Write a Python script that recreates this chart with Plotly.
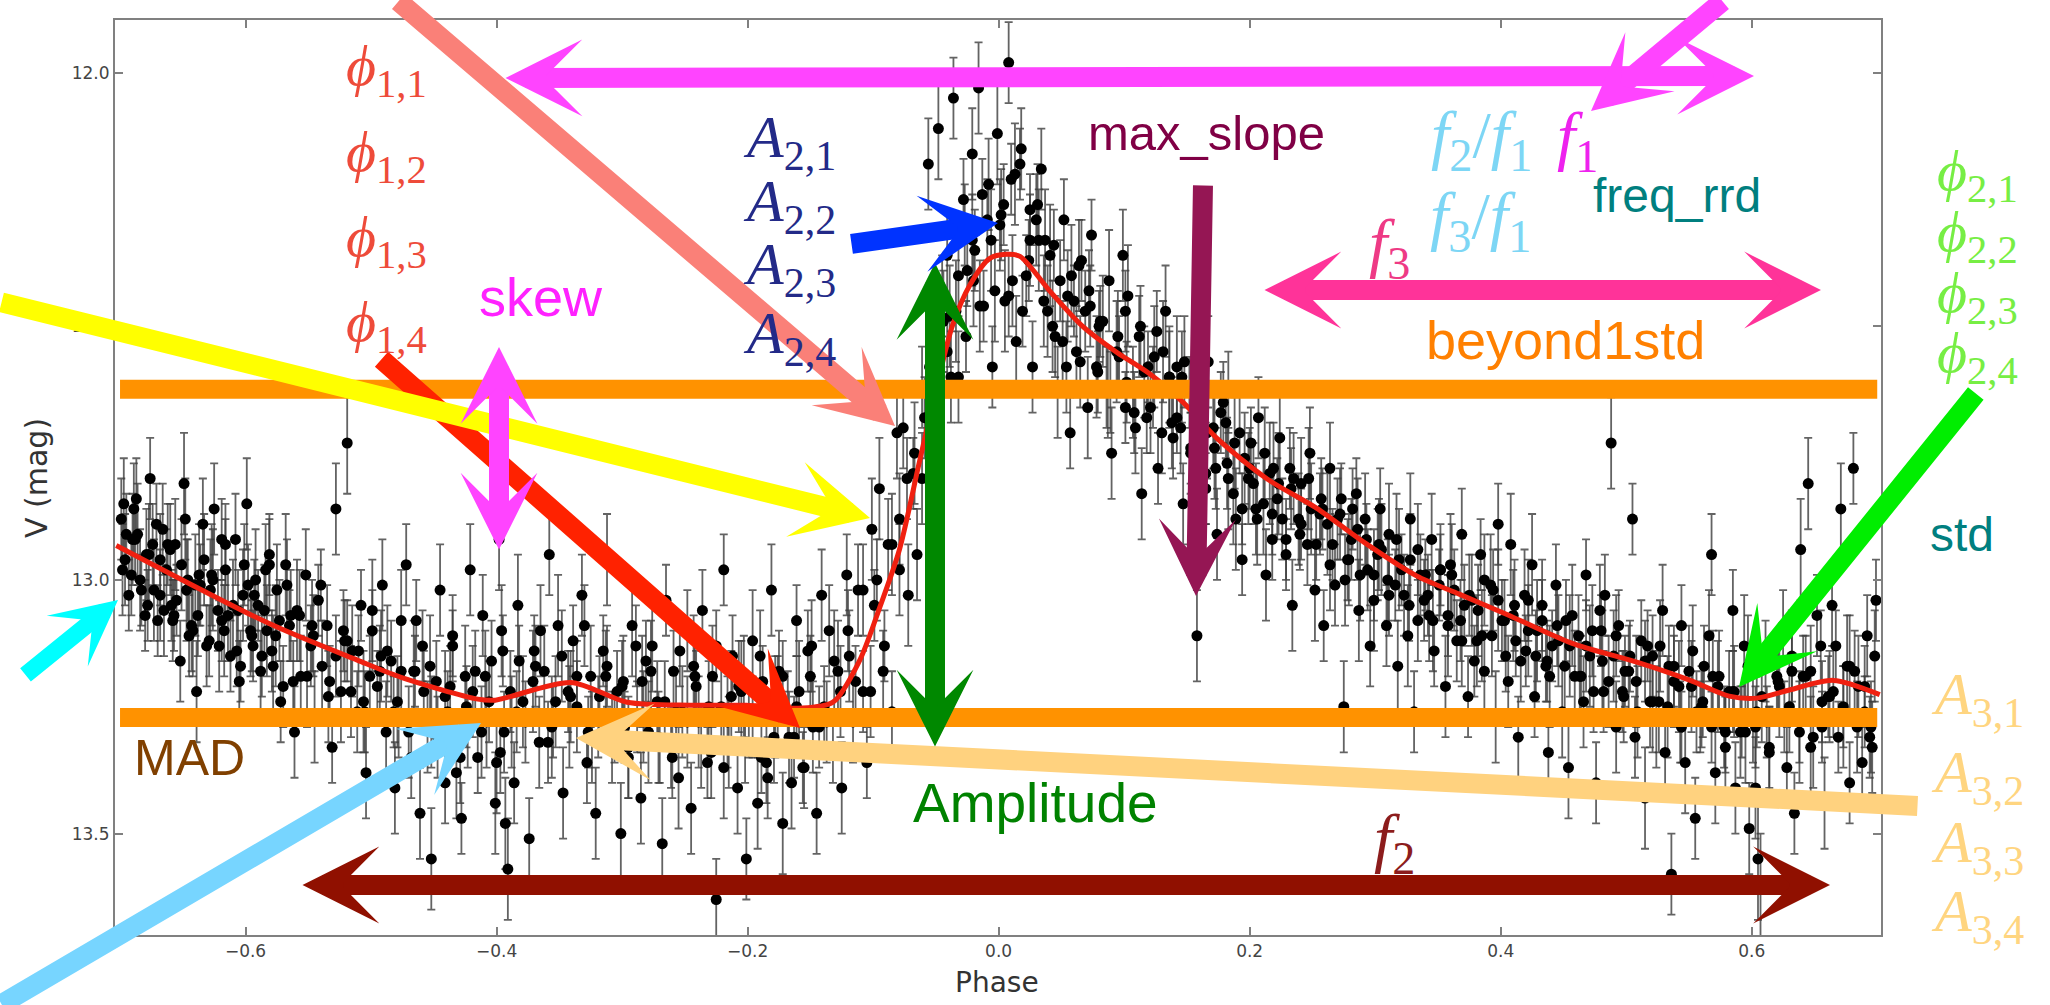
import plotly.graph_objects as go

# ---------------- data ----------------
phase = [
 -0.699,-0.696,-0.693,-0.690,-0.687,-0.684,
 -0.679,-0.676,-0.673,-0.670,-0.666,-0.663,
 -0.659,-0.656,-0.652,-0.649,-0.646,-0.642,
 -0.639,-0.636,-0.633,-0.629,-0.625,-0.622,
 -0.619,-0.616,-0.612,-0.608,-0.605,-0.602,
 -0.599,-0.595,-0.592,-0.588,-0.585,-0.581,
 -0.579,-0.575,-0.572,-0.568,-0.565,-0.561,
 -0.559,-0.556,-0.552,-0.548,-0.545,-0.542,
 -0.539,-0.535,-0.531,-0.528,-0.524,-0.521,
 -0.519,-0.515,-0.511,-0.508,-0.504,-0.501,
 -0.499,-0.495,-0.491,-0.488,-0.484,-0.481,
 -0.479,-0.476,-0.472,-0.468,-0.465,-0.461,
 -0.459,-0.455,-0.452,-0.448,-0.445,-0.441,
 -0.439,-0.435,-0.432,-0.428,-0.425,-0.421,
 -0.419,-0.415,-0.411,-0.408,-0.404,-0.401,
 -0.398,-0.396,-0.394,-0.393,-0.391,-0.389,
 -0.386,-0.383,-0.379,-0.374,-0.370,-0.366,
 -0.362,-0.358,-0.355,-0.351,-0.347,-0.343,
 -0.339,-0.336,-0.332,-0.328,-0.325,-0.321,
 -0.319,-0.315,-0.312,-0.308,-0.304,-0.301,
 -0.299,-0.295,-0.292,-0.288,-0.285,-0.281,
 -0.279,-0.276,-0.272,-0.268,-0.265,-0.261,
 -0.259,-0.255,-0.252,-0.248,-0.245,-0.241,
 -0.239,-0.236,-0.232,-0.228,-0.225,-0.221,
 -0.219,-0.215,-0.212,-0.208,-0.205,-0.201,
 -0.199,-0.196,-0.192,-0.188,-0.185,-0.181,
 -0.179,-0.175,-0.172,-0.168,-0.165,-0.161,
 -0.159,-0.156,-0.152,-0.148,-0.145,-0.141,
 -0.139,-0.135,-0.132,-0.128,-0.125,-0.121,
 -0.119,-0.116,-0.112,-0.108,-0.105,-0.101,
 -0.099,-0.095,-0.092,-0.088,-0.085,-0.081,
 -0.079,-0.076,-0.072,-0.068,-0.065,-0.061,
 -0.059,-0.056,-0.052,-0.048,-0.045,-0.041,
 -0.039,-0.036,-0.032,-0.028,-0.025,-0.021,
 -0.019,-0.016,-0.012,-0.008,-0.005,-0.001,
 0.001,0.005,0.008,0.010,0.014,0.018,
 0.022,0.025,0.027,0.032,0.034,0.039,
 0.041,0.045,0.047,0.052,0.055,0.057,
 0.062,0.064,0.069,0.071,0.074,0.079,
 0.081,0.086,0.088,0.090,0.096,0.099,
 0.102,0.103,0.109,0.112,0.114,0.119,
 0.121,0.126,0.127,0.133,0.136,0.139,
 0.142,0.145,0.147,0.152,0.156,0.158,
 0.161,0.165,0.167,0.172,0.174,0.179,
 0.182,0.183,0.189,0.192,0.194,0.199,
 0.201,0.205,0.207,0.213,0.216,0.218,
 0.222,0.224,0.229,0.232,0.234,0.239,
 0.241,0.246,0.248,0.252,0.256,0.259,
 0.262,0.264,0.268,0.273,0.275,0.278,
 0.281,0.285,0.287,0.292,0.296,0.299,
 0.302,0.304,0.309,0.311,0.316,0.318,
 0.321,0.326,0.328,0.331,0.334,0.339,
 0.342,0.345,0.347,0.352,0.356,0.358,
 0.361,0.365,0.369,0.371,0.374,0.379,
 0.382,0.384,0.387,0.392,0.396,0.398,
 0.401,0.406,0.408,0.412,0.414,0.419,
 0.422,0.425,0.427,0.433,0.436,0.438,
 0.441,0.444,0.449,0.452,0.454,0.459,
 0.462,0.466,0.468,0.471,0.476,0.479,
 0.481,0.483,0.488,0.492,0.494,0.497,
 0.502,0.505,0.507,0.512,0.515,0.519,
 0.521,0.524,0.529,0.531,0.536,0.538,
 0.542,0.544,0.547,0.553,0.555,0.559,
 0.561,0.566,0.568,0.571,0.574,0.579,
 0.582,0.585,0.587,0.592,0.594,0.598,
 0.601,0.603,0.605,0.607,0.611,0.614,
 0.622,0.625,0.628,0.632,0.634,0.639,
 0.641,0.645,0.647,0.652,0.656,0.658,
 0.662,0.664,0.669,0.671,0.676,0.678,
 0.681,0.685,0.688,0.692,0.695,0.699,
 # dense core near the light-curve
 -0.697,-0.691,-0.686,-0.680,-0.674,-0.668,
 -0.662,-0.657,-0.651,-0.645,-0.640,-0.634,
 -0.627,-0.621,-0.616,-0.610,-0.604,-0.598,
 -0.593,-0.587,-0.581,-0.576,-0.570,-0.564,
 -0.557,-0.551,-0.546,-0.540,-0.534,-0.528,
 -0.522,-0.516,-0.510,-0.505,-0.499,-0.493,
 -0.487,-0.482,-0.476,-0.470,-0.464,-0.458,
 -0.453,-0.447,-0.441,-0.435,-0.429,-0.424,
 -0.417,-0.412,-0.406,-0.400,-0.395,-0.388,
 -0.382,-0.377,-0.371,-0.365,-0.359,-0.353,
 -0.348,-0.342,-0.336,-0.330,-0.324,-0.318,
 -0.312,-0.306,-0.300,-0.295,-0.289,-0.283,
 -0.277,-0.271,-0.266,-0.260,-0.254,-0.248,
 -0.242,-0.237,-0.231,-0.225,-0.219,-0.213,
 -0.207,-0.202,-0.196,-0.190,-0.184,-0.178,
 -0.172,-0.167,-0.161,-0.155,-0.149,-0.143,
 -0.137,-0.131,-0.126,-0.120,-0.114,-0.108,
 -0.102,-0.097,-0.091,-0.085,-0.079,-0.073,
 -0.067,-0.061,-0.055,-0.049,-0.044,-0.038,
 -0.032,-0.026,-0.021,-0.015,-0.009,-0.003,
 0.002,0.008,0.013,0.019,0.025,0.031,
 0.037,0.043,0.049,0.054,0.060,0.066,
 0.072,0.078,0.083,0.089,0.095,0.101,
 0.107,0.113,0.118,0.124,0.130,0.136,
 0.142,0.148,0.153,0.159,0.165,0.171,
 0.177,0.183,0.188,0.194,0.200,0.206,
 0.212,0.218,0.223,0.229,0.235,0.241,
 0.247,0.253,0.258,0.264,0.270,0.276,
 0.282,0.288,0.293,0.299,0.305,0.311,
 0.317,0.323,0.328,0.334,0.340,0.346,
 0.352,0.358,0.363,0.369,0.375,0.381,
 0.387,0.393,0.398,0.404,0.410,0.416,
 0.422,0.428,0.433,0.439,0.445,0.451,
 0.457,0.463,0.468,0.474,0.480,0.486,
 0.492,0.498,0.503,0.509,0.515,0.521,
 0.527,0.533,0.538,0.544,0.550,0.556,
 0.562,0.568,0.573,0.579,0.585,0.591,
 0.597,0.603,0.608,0.614,0.620,0.626,
 0.632,0.638,0.643,0.649,0.655,0.661,
 0.667,0.673,0.678,0.684,0.690,0.696,
 # densest clumps
 -0.695,-0.689,-0.683,-0.677,-0.671,-0.665,
 -0.660,-0.655,-0.648,-0.643,-0.637,-0.631,
 -0.626,-0.619,-0.614,-0.607,-0.601,-0.596,
 -0.590,-0.584,-0.578,-0.573,-0.567,-0.562,
 -0.698,-0.688,-0.678,-0.668,-0.658,-0.647,
 -0.638,-0.628,-0.617,-0.606,-0.594,-0.583,
 -0.547,-0.533,-0.519,-0.506,-0.492,-0.478,
 -0.466,-0.452,-0.437,-0.423,-0.409,-0.397,
 -0.384,-0.369,-0.356,-0.341,-0.327,-0.313,
 -0.298,-0.284,-0.270,-0.257,-0.243,-0.229,
 -0.216,-0.203,-0.189,-0.176,-0.163,-0.150,
 -0.047,-0.041,-0.034,-0.027,-0.020,-0.013,
 -0.006,0.004,0.011,0.017,0.024,0.030,
 0.036,0.044,0.051,0.058,0.065,0.073,
 0.080,0.087,0.094,0.101,0.108,0.116,
 0.123,0.131,0.138,0.146,0.153,0.160,
 0.166,0.173,0.181,0.187,0.196,0.203,
 0.211,0.219,0.226,0.233,0.240,0.249,
 0.257,0.266,0.272,0.279,0.286,0.294,
 0.303,0.310,0.319,0.327,0.336,0.343,
 0.351,0.360,0.368,0.377,0.385,0.394,
 0.403,0.411,0.420,0.429,0.437,0.446,
 0.455,0.464,0.473,0.482,0.490,0.499,
 0.508,0.517,0.526,0.534,0.543,0.552,
 0.560,0.569,0.578,0.586,0.595,0.604,
 0.612,0.621,0.630,0.638,0.647,0.656,
 0.665,0.673,0.682,0.690,0.698,0.694,
]
mag = [
 12.88,12.96,13.03,12.92,12.84,13.00,
 12.95,12.80,13.02,13.08,12.90,12.98,
 13.05,12.93,13.16,12.81,13.00,13.10,
 13.22,13.01,12.96,13.12,12.86,13.06,
 13.08,12.98,13.15,12.92,13.20,13.03,
 12.85,13.11,13.00,13.18,13.06,12.95,
 13.14,13.02,13.24,12.97,13.09,13.30,
 13.06,13.19,12.99,13.13,13.27,13.04,
 13.17,13.09,13.33,12.86,13.22,13.12,
 12.73,13.14,13.26,13.05,13.38,13.19,
 13.10,13.21,13.01,13.30,13.16,13.41,
 13.24,13.08,12.97,13.35,13.18,13.46,
 13.13,13.29,13.55,13.20,13.02,13.40,
 13.26,13.11,13.38,13.47,13.19,12.98,
 13.22,13.35,13.07,13.28,13.16,13.44,
 12.92,13.10,13.30,13.48,13.57,13.22,
 13.40,13.05,13.24,13.51,13.14,13.32,
 13.18,12.95,13.28,13.09,13.42,13.22,
 13.12,13.25,13.03,13.36,13.19,13.46,
 13.27,13.14,12.96,13.31,13.22,13.50,
 13.20,13.35,13.09,13.27,13.43,13.16,
 13.30,13.13,13.24,13.52,13.04,13.33,
 13.18,13.39,13.26,13.10,13.45,13.21,
 13.28,13.06,13.36,13.19,13.63,13.25,
 12.98,13.32,13.15,13.41,13.22,13.55,
 13.27,13.12,13.44,13.20,13.36,13.02,
 13.31,13.18,13.48,13.26,13.40,13.08,
 13.22,13.37,13.14,13.29,13.46,13.03,
 13.25,13.10,13.33,13.18,13.41,12.99,
 13.15,13.28,13.02,13.22,13.36,12.90,
 13.05,12.82,13.18,12.93,13.26,12.71,
 12.88,12.70,13.03,12.79,12.95,12.62,
 12.68,12.18,12.81,12.11,12.44,12.55,
 12.48,12.05,12.60,12.25,12.39,12.16,
 12.35,12.03,12.46,12.22,12.58,12.12,
 12.30,12.45,11.98,12.21,12.53,12.15,
 12.40,12.27,12.58,12.33,12.19,12.47,
 12.36,12.52,12.63,12.29,12.44,12.71,
 12.55,12.38,12.47,12.66,12.32,12.59,
 12.49,12.62,12.41,12.75,12.56,12.36,
 12.61,12.44,12.70,12.52,12.83,12.58,
 12.66,12.51,12.78,12.47,12.60,12.72,
 12.58,12.70,12.85,12.63,12.76,13.11,
 12.68,12.82,12.57,12.74,12.91,12.65,
 12.77,12.63,12.88,12.71,12.96,12.80,
 12.73,12.86,12.68,12.99,12.79,12.92,
 12.84,12.72,12.95,12.78,13.05,12.88,
 12.81,12.93,12.75,13.02,12.87,13.09,
 12.89,12.78,13.01,12.84,13.25,12.96,
 12.92,12.83,13.06,12.88,13.13,12.99,
 12.95,12.86,13.09,12.91,13.01,13.17,
 12.98,13.11,12.88,13.26,12.94,13.04,
 13.03,12.92,13.14,12.98,13.21,13.07,
 12.99,13.12,12.91,13.05,13.23,13.16,
 13.06,12.95,13.18,13.01,13.27,12.89,
 13.08,13.20,12.93,13.12,13.31,13.03,
 13.10,12.97,13.23,13.05,13.17,13.34,
 13.13,13.01,13.26,13.08,13.37,13.19,
 13.11,13.24,12.99,13.15,13.40,13.06,
 13.16,13.03,12.73,13.29,13.09,13.22,
 13.18,12.88,13.31,13.12,13.43,13.24,
 13.15,13.27,13.06,13.34,13.58,13.20,
 13.21,13.09,13.36,13.14,13.47,13.27,
 13.24,13.11,12.95,13.38,13.19,13.30,
 13.22,13.06,13.41,13.28,13.13,13.49,
 13.27,13.41,13.55,13.61,13.16,13.34,
 13.21,13.09,13.37,13.18,13.46,12.94,
 13.19,12.81,13.33,13.07,13.29,13.44,
 13.23,13.05,13.31,12.86,13.17,13.40,
 12.78,13.21,13.36,13.11,13.29,13.04,
 # dense core near the light-curve
 12.85,12.99,12.91,13.07,12.93,13.03,
 12.93,13.07,12.97,13.11,13.01,12.89,
 12.99,13.13,12.93,13.05,13.17,13.01,
 13.03,13.15,12.97,13.11,13.21,13.07,
 13.07,13.19,13.11,13.01,13.23,13.15,
 13.10,13.22,13.14,13.26,13.06,13.18,
 13.14,13.26,13.18,13.30,13.08,13.22,
 13.17,13.31,13.23,13.13,13.35,13.25,
 13.18,13.30,13.24,13.36,13.14,13.28,
 13.16,13.28,13.20,13.10,13.32,13.24,
 13.15,13.27,13.19,13.09,13.31,13.23,
 13.17,13.29,13.21,13.33,13.13,13.27,
 13.18,13.31,13.24,13.35,13.14,13.28,
 13.19,13.33,13.25,13.13,13.37,13.23,
 13.21,13.33,13.27,13.15,13.39,13.25,
 13.19,13.31,13.25,13.37,13.13,13.29,
 13.28,13.16,13.22,13.10,13.20,13.02,
 13.22,13.00,13.13,12.93,12.98,12.80,
 12.75,12.80,12.58,12.70,12.49,12.60,
 12.40,12.52,12.33,12.46,12.29,12.43,
 12.28,12.44,12.20,12.47,12.33,12.26,
 12.33,12.50,12.41,12.58,12.45,12.37,
 12.43,12.58,12.49,12.63,12.52,12.66,
 12.63,12.50,12.68,12.56,12.71,12.60,
 12.68,12.57,12.75,12.66,12.79,12.70,
 12.67,12.80,12.73,12.86,12.78,12.88,
 12.75,12.87,12.81,12.92,12.80,12.89,
 12.80,12.93,12.86,12.97,12.88,13.00,
 12.86,12.99,12.92,13.04,12.94,13.03,
 12.92,13.03,12.96,13.08,12.99,13.08,
 12.98,13.09,13.02,13.12,13.03,13.12,
 13.00,13.11,13.04,13.15,13.07,13.16,
 13.04,13.15,13.08,13.19,13.09,13.17,
 13.07,13.19,13.13,13.22,13.10,13.20,
 13.11,13.23,13.15,13.26,13.16,13.24,
 13.13,13.25,13.17,13.29,13.18,13.26,
 13.17,13.29,13.21,13.33,13.22,13.30,
 13.17,13.29,13.23,13.33,13.19,13.27,
 13.15,13.27,13.19,13.31,13.13,13.23,
 13.13,13.25,13.17,13.29,13.21,13.33,
 # densest clumps
 12.91,12.86,13.02,12.95,12.89,13.06,
 12.94,13.04,12.88,13.09,12.99,13.13,
 13.00,12.92,13.07,13.14,12.97,13.10,
 13.05,12.98,13.17,13.08,13.01,13.20,
 12.98,12.92,13.05,12.96,13.08,13.02,
 13.07,13.02,13.10,13.06,13.13,13.10,
 13.09,13.20,13.12,13.24,13.15,13.27,
 13.18,13.28,13.21,13.30,13.19,13.34,
 13.26,13.17,13.29,13.23,13.30,13.19,
 13.29,13.20,13.32,13.26,13.17,13.34,
 13.28,13.21,13.35,13.24,13.31,13.19,
 12.52,12.36,12.47,12.30,12.41,12.24,
 12.33,12.26,12.41,12.18,12.37,12.29,
 12.45,12.34,12.53,12.40,12.57,12.46,
 12.50,12.63,12.55,12.47,12.67,12.59,
 12.62,12.55,12.69,12.60,12.74,12.66,
 12.71,12.78,12.69,12.83,12.76,12.81,
 12.85,12.78,12.88,12.82,12.91,12.86,
 12.84,12.93,12.87,12.96,12.90,12.98,
 12.93,13.00,12.96,13.05,12.99,13.07,
 13.01,12.97,13.08,13.04,13.11,13.02,
 13.08,13.05,13.14,13.10,13.16,13.12,
 13.13,13.19,13.10,13.22,13.15,13.18,
 13.20,13.13,13.24,13.17,13.28,13.21,
 13.25,13.19,13.29,13.22,13.30,13.26,
 13.28,13.20,13.25,13.30,13.18,13.24,
 13.22,13.27,13.18,13.26,13.15,13.31,
]
mag_err = [
 0.08,0.09,0.07,0.09,0.08,0.10,
 0.09,0.08,0.10,0.07,0.09,0.08,
 0.07,0.09,0.08,0.10,0.08,0.09,
 0.10,0.08,0.09,0.07,0.09,0.08,
 0.08,0.10,0.07,0.09,0.08,0.09,
 0.09,0.07,0.10,0.08,0.09,0.08,
 0.08,0.09,0.08,0.10,0.07,0.09,
 0.10,0.08,0.09,0.08,0.09,0.07,
 0.09,0.08,0.07,0.09,0.10,0.08,
 0.10,0.09,0.08,0.07,0.09,0.08,
 0.08,0.07,0.09,0.10,0.08,0.09,
 0.09,0.10,0.08,0.08,0.07,0.09,
 0.07,0.09,0.10,0.08,0.09,0.08,
 0.08,0.08,0.09,0.07,0.10,0.09,
 0.09,0.07,0.08,0.09,0.08,0.10,
 0.10,0.09,0.08,0.09,0.10,0.08,
 0.08,0.10,0.09,0.08,0.07,0.09,
 0.09,0.08,0.07,0.10,0.09,0.08,
 0.07,0.09,0.08,0.08,0.10,0.09,
 0.08,0.07,0.09,0.09,0.08,0.10,
 0.09,0.08,0.10,0.07,0.09,0.08,
 0.10,0.09,0.08,0.09,0.07,0.08,
 0.08,0.10,0.09,0.08,0.09,0.07,
 0.09,0.08,0.07,0.10,0.08,0.09,
 0.07,0.09,0.08,0.09,0.10,0.08,
 0.08,0.10,0.09,0.07,0.08,0.09,
 0.09,0.08,0.10,0.08,0.09,0.07,
 0.10,0.07,0.08,0.09,0.08,0.09,
 0.08,0.09,0.07,0.10,0.09,0.08,
 0.09,0.08,0.09,0.08,0.07,0.10,
 0.07,0.10,0.08,0.09,0.08,0.09,
 0.09,0.08,0.10,0.07,0.09,0.08,
 0.08,0.09,0.08,0.10,0.08,0.09,
 0.10,0.08,0.09,0.08,0.07,0.09,
 0.08,0.09,0.07,0.09,0.08,0.10,
 0.09,0.10,0.08,0.07,0.09,0.08,
 0.08,0.07,0.09,0.10,0.08,0.09,
 0.10,0.08,0.09,0.08,0.09,0.07,
 0.09,0.09,0.08,0.10,0.07,0.08,
 0.07,0.08,0.10,0.09,0.08,0.09,
 0.08,0.10,0.09,0.08,0.09,0.07,
 0.09,0.08,0.07,0.09,0.10,0.08,
 0.10,0.09,0.08,0.07,0.08,0.09,
 0.08,0.07,0.09,0.10,0.09,0.08,
 0.09,0.08,0.10,0.08,0.07,0.09,
 0.07,0.09,0.08,0.09,0.10,0.08,
 0.08,0.10,0.07,0.08,0.09,0.09,
 0.09,0.08,0.09,0.10,0.08,0.07,
 0.10,0.09,0.08,0.07,0.09,0.08,
 0.08,0.07,0.10,0.09,0.08,0.09,
 0.09,0.08,0.08,0.10,0.07,0.09,
 0.07,0.10,0.09,0.08,0.09,0.08,
 0.08,0.09,0.07,0.09,0.10,0.08,
 0.10,0.08,0.09,0.08,0.08,0.07,
 0.09,0.07,0.08,0.10,0.09,0.08,
 0.08,0.09,0.10,0.07,0.08,0.09,
 0.09,0.10,0.08,0.09,0.07,0.08,
 0.07,0.08,0.09,0.08,0.10,0.09,
 0.08,0.09,0.07,0.10,0.08,0.09,
 0.10,0.08,0.09,0.09,0.07,0.08,
 0.09,0.07,0.08,0.08,0.10,0.09,
 0.08,0.10,0.09,0.07,0.08,0.09,
 0.09,0.08,0.10,0.09,0.08,0.07,
 0.07,0.09,0.08,0.10,0.09,0.08,
 0.08,0.08,0.09,0.07,0.10,0.09,
 0.09,0.10,0.12,0.11,0.08,0.09,
 0.10,0.07,0.08,0.09,0.08,0.10,
 0.08,0.09,0.10,0.08,0.07,0.09,
 0.09,0.08,0.07,0.09,0.10,0.08,
 0.07,0.10,0.09,0.08,0.09,0.08,
 # dense core
 0.09,0.08,0.10,0.07,0.08,0.09,
 0.08,0.07,0.09,0.08,0.10,0.09,
 0.10,0.09,0.08,0.09,0.07,0.08,
 0.07,0.08,0.09,0.10,0.08,0.09,
 0.09,0.10,0.08,0.07,0.09,0.08,
 0.08,0.09,0.07,0.08,0.10,0.09,
 0.09,0.07,0.10,0.09,0.08,0.08,
 0.10,0.08,0.09,0.07,0.09,0.08,
 0.08,0.09,0.08,0.10,0.07,0.09,
 0.07,0.08,0.10,0.09,0.08,0.09,
 0.09,0.10,0.07,0.08,0.09,0.08,
 0.08,0.07,0.09,0.10,0.08,0.09,
 0.10,0.09,0.08,0.08,0.07,0.09,
 0.08,0.08,0.09,0.07,0.10,0.09,
 0.09,0.07,0.08,0.09,0.08,0.10,
 0.07,0.09,0.10,0.08,0.09,0.08,
 0.08,0.10,0.09,0.08,0.07,0.09,
 0.09,0.08,0.07,0.10,0.09,0.08,
 0.10,0.09,0.08,0.08,0.10,0.09,
 0.08,0.07,0.09,0.09,0.08,0.10,
 0.09,0.08,0.10,0.07,0.09,0.08,
 0.10,0.09,0.08,0.09,0.07,0.08,
 0.08,0.10,0.09,0.08,0.09,0.07,
 0.09,0.08,0.07,0.10,0.08,0.09,
 0.07,0.09,0.08,0.09,0.10,0.08,
 0.08,0.10,0.09,0.07,0.08,0.09,
 0.09,0.08,0.10,0.08,0.09,0.07,
 0.10,0.07,0.08,0.09,0.08,0.09,
 0.08,0.09,0.07,0.10,0.09,0.08,
 0.09,0.08,0.09,0.08,0.07,0.10,
 0.07,0.10,0.08,0.09,0.08,0.09,
 0.09,0.08,0.10,0.07,0.09,0.08,
 0.08,0.09,0.08,0.10,0.08,0.09,
 0.10,0.08,0.09,0.08,0.07,0.09,
 0.08,0.09,0.07,0.09,0.08,0.10,
 0.09,0.10,0.08,0.07,0.09,0.08,
 0.08,0.07,0.09,0.10,0.08,0.09,
 0.10,0.08,0.09,0.08,0.09,0.07,
 0.09,0.09,0.08,0.10,0.07,0.08,
 0.07,0.08,0.10,0.09,0.08,0.09,
 # densest clumps
 0.08,0.09,0.07,0.10,0.08,0.09,
 0.09,0.07,0.08,0.09,0.10,0.08,
 0.10,0.08,0.09,0.07,0.08,0.09,
 0.07,0.09,0.10,0.08,0.09,0.08,
 0.09,0.08,0.07,0.09,0.08,0.10,
 0.08,0.10,0.09,0.08,0.07,0.09,
 0.09,0.07,0.08,0.10,0.09,0.08,
 0.10,0.09,0.08,0.07,0.09,0.08,
 0.08,0.08,0.10,0.09,0.07,0.09,
 0.07,0.09,0.08,0.08,0.10,0.09,
 0.09,0.10,0.07,0.09,0.08,0.08,
 0.08,0.09,0.10,0.08,0.09,0.07,
 0.10,0.08,0.09,0.07,0.08,0.09,
 0.09,0.07,0.08,0.10,0.09,0.08,
 0.07,0.09,0.10,0.08,0.08,0.09,
 0.08,0.10,0.09,0.09,0.07,0.08,
 0.09,0.08,0.07,0.10,0.09,0.08,
 0.10,0.09,0.08,0.08,0.07,0.09,
 0.08,0.07,0.09,0.09,0.10,0.08,
 0.09,0.08,0.10,0.07,0.08,0.09,
 0.07,0.10,0.08,0.09,0.09,0.08,
 0.08,0.09,0.07,0.10,0.08,0.09,
 0.10,0.08,0.09,0.08,0.09,0.07,
 0.09,0.07,0.10,0.08,0.08,0.09,
 0.08,0.09,0.08,0.09,0.10,0.07,
 0.07,0.08,0.09,0.10,0.09,0.08,
 0.09,0.10,0.08,0.07,0.09,0.08,
]

# fitted model curve (red)
fit_phase = [-0.703,-0.582,-0.511,-0.476,-0.415,-0.401,-0.341,-0.296,-0.244,-0.201,
             -0.159,-0.132,-0.111,-0.095,-0.079,-0.063,-0.049,-0.037,-0.023,-0.007,
             0.006,0.017,0.041,0.067,0.094,0.120,0.147,0.174,0.214,0.253,
             0.293,0.333,0.367,0.405,0.457,0.511,0.551,0.582,0.604,0.630,
             0.665,0.702]
fit_mag = [12.932,13.085,13.158,13.192,13.235,13.237,13.202,13.241,13.247,13.247,
           13.253,13.241,13.160,13.056,12.940,12.766,12.616,12.500,12.419,12.366,
           12.358,12.362,12.431,12.500,12.551,12.593,12.650,12.721,12.801,12.858,
           12.929,12.992,13.028,13.068,13.125,13.164,13.198,13.229,13.233,13.217,
           13.198,13.226]

# mean +/- 1 std levels (orange bands)
band_phase = [-0.700, 0.700]
band_mag = [12.624, 13.271]

x_ticks = [-0.6, -0.4, -0.2, 0.0, 0.2, 0.4, 0.6]
y_ticks = [12.0, 12.5, 13.0, 13.5]

# ---------------- layout geometry ----------------
W, H = 2050, 1005
L, R, T, B = 115, 1881, 20, 935


def PX(x):
    return (x - L) / (R - L)


def PY(y):
    return (B - y) / (B - T)


fig = go.Figure()
fig.add_trace(go.Scatter(
    x=phase, y=mag, mode="markers",
    marker=dict(color="black", size=11),
    error_y=dict(type="data", array=mag_err, color="rgba(60,60,60,0.8)",
                 thickness=1.8, width=4),
    showlegend=False))
fig.add_trace(go.Scatter(
    x=fit_phase, y=fit_mag, mode="lines",
    line=dict(color="#F02010", width=5, shape="spline", smoothing=0.8),
    showlegend=False))
for m in band_mag:
    fig.add_trace(go.Scatter(
        x=band_phase, y=[m, m], mode="lines",
        line=dict(color="#FF9200", width=19), showlegend=False))

# arrows: tail(x,y) -> head(x,y) in page pixels
arrows = [
    (397, -15, 895, 426, "#FA8078", 20, False),     # salmon
    (504, 78, 1754, 76, "#FF44FF", 20, True),       # f1 span
    (1724, -15, 1591, 111, "#FF44FF", 20, False),   # f1 pointer
    (380, 358, 800, 728, "#FF2200", 20, False),     # phi1 pointer
    (-15, 302, 870, 518, "#FFFF00", 20, False),     # yellow
    (24, 676, 118, 600, "#00FFFF", 17, False),      # cyan
    (-15, 1014, 481, 723, "#77D5FF", 20, False),    # light blue
    (1919, 806, 576, 738, "#FFD27F", 20, False),    # light orange
    (301, 885, 1830, 885, "#901000", 20, True),     # f2
    (935, 748, 935, 263, "#008800", 20, True),      # amplitude
    (499, 551, 499, 347, "#FF44FF", 20, True),      # skew
    (850, 244, 998, 223, "#0033FF", 20, False),     # A2
    (1263, 290, 1821, 290, "#FF3399", 20, True),    # f3
    (1203, 184, 1196, 596, "#951654", 20, False),   # max_slope
    (1977, 392, 1739, 687, "#00EE00", 20, False),   # std
]
for tx, ty, hx, hy, col, w, dbl in arrows:
    fig.add_annotation(
        x=PX(hx), y=PY(hy), xref="paper", yref="paper",
        ax=tx - hx, ay=ty - hy, axref="pixel", ayref="pixel",
        text="", showarrow=True, arrowhead=3, arrowsize=0.64, arrowwidth=w,
        arrowcolor=col, arrowside="end+start" if dbl else "end",
        startarrowhead=3, startarrowsize=0.64, standoff=0, startstandoff=0)

SANS = "Liberation Sans, Arial, sans-serif"
SERIF = "Liberation Serif, DejaVu Serif, serif"
PHI = "\u03d5"

labels = [
    ("<i>%s</i><sub>1,1</sub>" % PHI, 386, 70, "#EE4B3A", 58, SERIF),
    ("<i>%s</i><sub>1,2</sub>" % PHI, 386, 155, "#EE4B3A", 58, SERIF),
    ("<i>%s</i><sub>1,3</sub>" % PHI, 386, 241, "#EE4B3A", 58, SERIF),
    ("<i>%s</i><sub>1,4</sub>" % PHI, 386, 326, "#EE4B3A", 58, SERIF),
    ("skew", 541, 297, "#FF22FF", 54, SANS),
    ("<i>A</i><sub>2,1</sub>", 789, 142, "#232A88", 60, SERIF),
    ("<i>A</i><sub>2,2</sub>", 789, 205, "#232A88", 60, SERIF),
    ("<i>A</i><sub>2,3</sub>", 789, 268, "#232A88", 60, SERIF),
    ("<i>A</i><sub>2,4</sub>", 789, 337, "#232A88", 60, SERIF),
    ("max_slope", 1206, 133, "#800045", 49, SANS),
    ("<i>f</i><sub>2</sub>/<i>f</i><sub>1</sub>", 1481, 139, "#7DD6F5", 66, SERIF),
    ("<i>f</i><sub>1</sub>", 1577, 141, "#EE22EE", 66, SERIF),
    ("freq_rrd", 1677, 195, "#007F7F", 48, SANS),
    ("<i>f</i><sub>3</sub>", 1389, 247, "#EE3A85", 66, SERIF),
    ("<i>f</i><sub>3</sub>/<i>f</i><sub>1</sub>", 1480, 220, "#7DD6F5", 66, SERIF),
    ("beyond1std", 1565, 340, "#FF8000", 54, SANS),
    ("<i>%s</i><sub>2,1</sub>" % PHI, 1978, 175, "#77EE44", 58, SERIF),
    ("<i>%s</i><sub>2,2</sub>" % PHI, 1978, 236, "#77EE44", 58, SERIF),
    ("<i>%s</i><sub>2,3</sub>" % PHI, 1978, 296, "#77EE44", 58, SERIF),
    ("<i>%s</i><sub>2,4</sub>" % PHI, 1978, 356, "#77EE44", 58, SERIF),
    ("std", 1962, 534, "#007F7F", 48, SANS),
    ("<i>A</i><sub>3,1</sub>", 1977, 698, "#FFD580", 60, SERIF),
    ("<i>A</i><sub>3,2</sub>", 1977, 776, "#FFD580", 60, SERIF),
    ("<i>A</i><sub>3,3</sub>", 1977, 846, "#FFD580", 60, SERIF),
    ("<i>A</i><sub>3,4</sub>", 1977, 915, "#FFD580", 60, SERIF),
    ("MAD", 189, 758, "#804000", 50, SANS),
    ("Amplitude", 1035, 803, "#008200", 55, SANS),
    ("<i>f</i><sub>2</sub>", 1394, 842, "#8C1C1C", 66, SERIF),
    ("Phase", 997, 982, "#333333", 28, "DejaVu Sans"),
]
for txt, x, y, col, size, fam in labels:
    fig.add_annotation(x=PX(x), y=PY(y), xref="paper", yref="paper",
                       text=txt, showarrow=False, xanchor="center", yanchor="middle",
                       font=dict(family=fam, size=size, color=col))
fig.add_annotation(x=PX(36), y=PY(478), xref="paper", yref="paper",
                   text="V (mag)", showarrow=False, textangle=-90,
                   xanchor="center", yanchor="middle",
                   font=dict(family="DejaVu Sans", size=30, color="#333333"))

axis_common = dict(showgrid=False, zeroline=False, showline=True, mirror="ticks",
                   linecolor="#808080", linewidth=2, ticks="inside", ticklen=8,
                   tickcolor="#808080", tickwidth=1.5,
                   tickfont=dict(family="DejaVu Sans", size=17, color="#444444"))
fig.update_xaxes(range=[-0.704, 0.703], tickvals=x_ticks, tickformat=".1f", **axis_common)
fig.update_yaxes(range=[13.70, 11.896], tickvals=y_ticks, tickformat=".1f", **axis_common)

fig.update_layout(width=W, height=H, margin=dict(l=L, r=W - R, t=T, b=H - B),
                  paper_bgcolor="white", plot_bgcolor="white", showlegend=False)
fig.write_html("out.html")
